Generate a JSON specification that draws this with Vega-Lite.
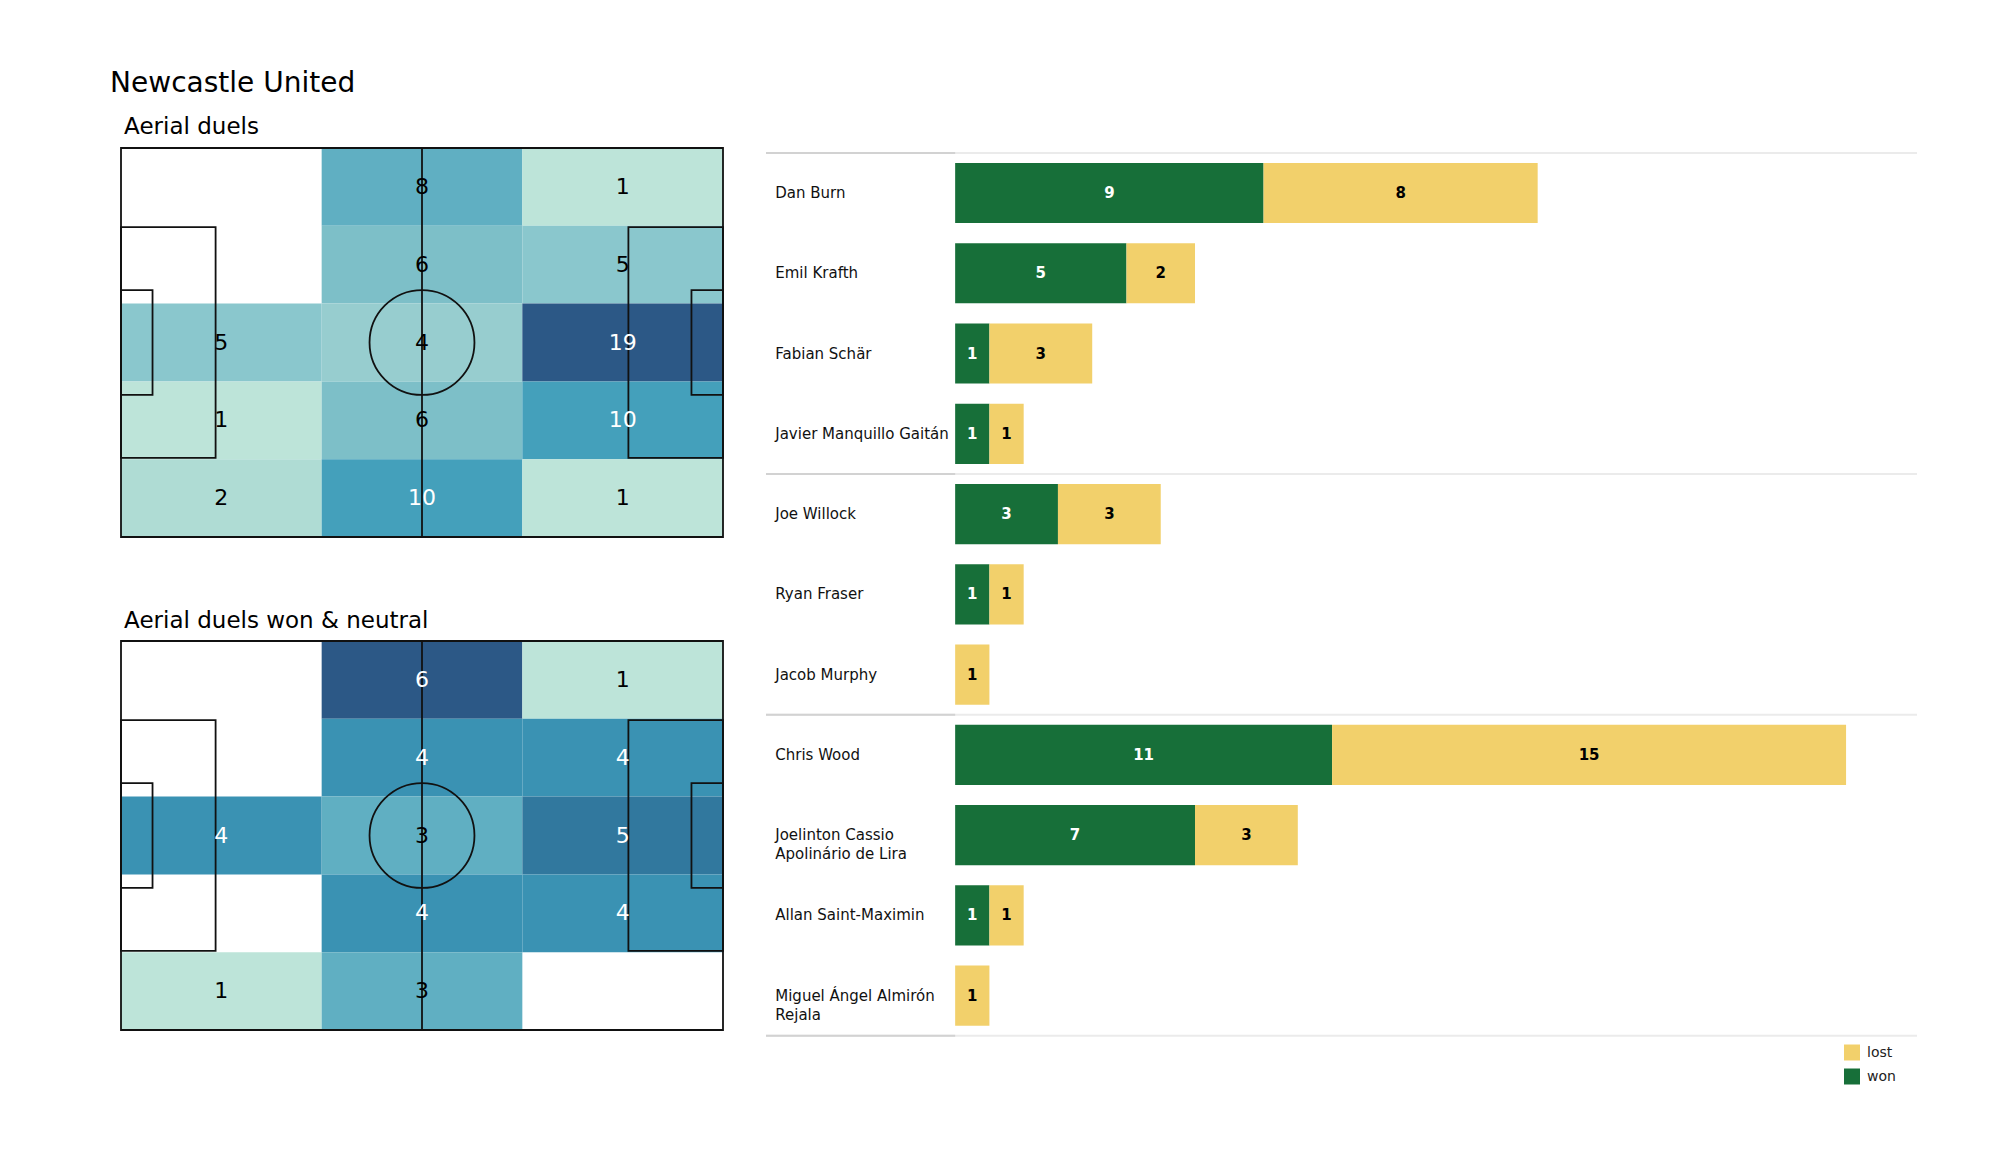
{
  "$schema": "https://vega.github.io/schema/vega-lite/v6.json",
  "background": "white",
  "padding": {"left": 110, "top": 70, "right": 10, "bottom": 10},
  "title": {"text": "Newcastle United", "anchor": "start", "fontSize": 28, "fontWeight": "normal", "font": "DejaVu Sans", "color": "black", "dx": -10, "offset": -4, "baseline": "alphabetic"},
  "datasets": {
    "aerial": [
      {"col": 1, "row": 0, "n": 8}, {"col": 2, "row": 0, "n": 1},
      {"col": 1, "row": 1, "n": 6}, {"col": 2, "row": 1, "n": 5},
      {"col": 0, "row": 2, "n": 5}, {"col": 1, "row": 2, "n": 4}, {"col": 2, "row": 2, "n": 19},
      {"col": 0, "row": 3, "n": 1}, {"col": 1, "row": 3, "n": 6}, {"col": 2, "row": 3, "n": 10},
      {"col": 0, "row": 4, "n": 2}, {"col": 1, "row": 4, "n": 10}, {"col": 2, "row": 4, "n": 1}
    ],
    "wonneutral": [
      {"col": 1, "row": 0, "n": 6}, {"col": 2, "row": 0, "n": 1},
      {"col": 1, "row": 1, "n": 4}, {"col": 2, "row": 1, "n": 4},
      {"col": 0, "row": 2, "n": 4}, {"col": 1, "row": 2, "n": 3}, {"col": 2, "row": 2, "n": 5},
      {"col": 1, "row": 3, "n": 4}, {"col": 2, "row": 3, "n": 4},
      {"col": 0, "row": 4, "n": 1}, {"col": 1, "row": 4, "n": 3}
    ],
    "boxes": [
      {"x0": 0, "x1": 105, "y0": 0, "y1": 68},
      {"x0": 0, "x1": 16.5, "y0": 13.84, "y1": 54.16},
      {"x0": 0, "x1": 5.5, "y0": 24.84, "y1": 43.16},
      {"x0": 88.5, "x1": 105, "y0": 13.84, "y1": 54.16},
      {"x0": 99.5, "x1": 105, "y0": 24.84, "y1": 43.16}
    ],
    "duels": [
      {"player": "Dan Burn", "result": "won", "count": 9}, {"player": "Dan Burn", "result": "lost", "count": 8},
      {"player": "Emil Krafth", "result": "won", "count": 5}, {"player": "Emil Krafth", "result": "lost", "count": 2},
      {"player": "Fabian Schär", "result": "won", "count": 1}, {"player": "Fabian Schär", "result": "lost", "count": 3},
      {"player": "Javier Manquillo Gaitán", "result": "won", "count": 1}, {"player": "Javier Manquillo Gaitán", "result": "lost", "count": 1},
      {"player": "Joe Willock", "result": "won", "count": 3}, {"player": "Joe Willock", "result": "lost", "count": 3},
      {"player": "Ryan Fraser", "result": "won", "count": 1}, {"player": "Ryan Fraser", "result": "lost", "count": 1},
      {"player": "Jacob Murphy", "result": "lost", "count": 1},
      {"player": "Chris Wood", "result": "won", "count": 11}, {"player": "Chris Wood", "result": "lost", "count": 15},
      {"player": "Joelinton Cassio Apolinário de Lira", "result": "won", "count": 7}, {"player": "Joelinton Cassio Apolinário de Lira", "result": "lost", "count": 3},
      {"player": "Allan Saint-Maximin", "result": "won", "count": 1}, {"player": "Allan Saint-Maximin", "result": "lost", "count": 1},
      {"player": "Miguel Ángel Almirón Rejala", "result": "lost", "count": 1}
    ],
    "players": [
      {"player": "Dan Burn", "label": "Dan Burn"},
      {"player": "Emil Krafth", "label": "Emil Krafth"},
      {"player": "Fabian Schär", "label": "Fabian Schär"},
      {"player": "Javier Manquillo Gaitán", "label": "Javier Manquillo Gaitán"},
      {"player": "Joe Willock", "label": "Joe Willock"},
      {"player": "Ryan Fraser", "label": "Ryan Fraser"},
      {"player": "Jacob Murphy", "label": "Jacob Murphy"},
      {"player": "Chris Wood", "label": "Chris Wood"},
      {"player": "Joelinton Cassio Apolinário de Lira", "label": "Joelinton Cassio\nApolinário de Lira"},
      {"player": "Allan Saint-Maximin", "label": "Allan Saint-Maximin"},
      {"player": "Miguel Ángel Almirón Rejala", "label": "Miguel Ángel Almirón\nRejala"}
    ],
    "sepTop": [{"player": "Dan Burn"}, {"player": "Joe Willock"}, {"player": "Chris Wood"}],
    "sepBottom": [{"player": "Miguel Ángel Almirón Rejala"}]
  },
  "hconcat": [
    {
      "vconcat": [
        {
          "width": 602, "height": 389,
          "title": {"text": "Aerial duels", "anchor": "start", "fontSize": 23, "fontWeight": "normal", "font": "DejaVu Sans", "color": "black", "dx": 4, "offset": -10, "baseline": "alphabetic"},
          "layer": [
            {
              "data": {"name": "aerial"},
              "mark": {"type": "rect"},
              "encoding": {
                "x": {"field": "col", "type": "ordinal", "scale": {"domain": [0, 1, 2], "paddingInner": 0, "paddingOuter": 0}, "axis": null},
                "y": {"field": "row", "type": "ordinal", "scale": {"domain": [0, 1, 2, 3, 4], "paddingInner": 0, "paddingOuter": 0}, "axis": null},
                "color": {"field": "n", "type": "quantitative", "scale": {"domain": [1, 2, 4, 5, 6, 8, 10, 19], "range": ["#bde4d9", "#afdcd4", "#97cdcf", "#8ac7cd", "#7dbfc8", "#60afc2", "#44a0bb", "#2c5886"]}, "legend": null}
              }
            },
            {
              "data": {"name": "boxes"},
              "mark": {"type": "rect", "fill": "transparent", "stroke": "#111111", "strokeWidth": 1.8},
              "encoding": {
                "x": {"field": "x0", "type": "quantitative", "scale": {"domain": [0, 105], "nice": false, "zero": false}, "axis": null},
                "x2": {"field": "x1"},
                "y": {"field": "y0", "type": "quantitative", "scale": {"domain": [0, 68], "nice": false, "zero": false}, "axis": null},
                "y2": {"field": "y1"}
              }
            },
            {
              "data": {"values": [{"x": 52.5, "y0": 0, "y1": 68}]},
              "mark": {"type": "rule", "stroke": "#111111", "strokeWidth": 1.8},
              "encoding": {
                "x": {"field": "x", "type": "quantitative", "scale": {"domain": [0, 105], "nice": false, "zero": false}, "axis": null},
                "y": {"field": "y0", "type": "quantitative", "scale": {"domain": [0, 68], "nice": false, "zero": false}, "axis": null},
                "y2": {"field": "y1"}
              }
            },
            {
              "data": {"values": [{"x": 52.5, "y": 34}]},
              "mark": {"type": "point", "shape": "circle", "filled": false, "stroke": "#111111", "strokeWidth": 1.8, "size": 11008, "opacity": 1},
              "encoding": {
                "x": {"field": "x", "type": "quantitative", "scale": {"domain": [0, 105], "nice": false, "zero": false}, "axis": null},
                "y": {"field": "y", "type": "quantitative", "scale": {"domain": [0, 68], "nice": false, "zero": false}, "axis": null}
              }
            },
            {
              "data": {"name": "aerial"},
              "mark": {"type": "text", "fontSize": 22, "font": "DejaVu Sans", "align": "center", "baseline": "middle"},
              "encoding": {
                "x": {"field": "col", "type": "ordinal", "scale": {"domain": [0, 1, 2], "paddingInner": 0, "paddingOuter": 0}, "axis": null},
                "y": {"field": "row", "type": "ordinal", "scale": {"domain": [0, 1, 2, 3, 4], "paddingInner": 0, "paddingOuter": 0}, "axis": null},
                "text": {"field": "n", "type": "quantitative"},
                "color": {"condition": {"test": "datum.n >= 10", "value": "white"}, "value": "black"}
              }
            }
          ],
          "resolve": {"scale": {"x": "independent", "y": "independent"}}
        },
        {
          "width": 602, "height": 389,
          "title": {"text": "Aerial duels won & neutral", "anchor": "start", "fontSize": 23, "fontWeight": "normal", "font": "DejaVu Sans", "color": "black", "dx": 4, "offset": -11, "baseline": "alphabetic"},
          "layer": [
            {
              "data": {"name": "wonneutral"},
              "mark": {"type": "rect"},
              "encoding": {
                "x": {"field": "col", "type": "ordinal", "scale": {"domain": [0, 1, 2], "paddingInner": 0, "paddingOuter": 0}, "axis": null},
                "y": {"field": "row", "type": "ordinal", "scale": {"domain": [0, 1, 2, 3, 4], "paddingInner": 0, "paddingOuter": 0}, "axis": null},
                "color": {"field": "n", "type": "quantitative", "scale": {"domain": [1, 3, 4, 5, 6], "range": ["#bde4d9", "#60afc2", "#3a92b3", "#31789e", "#2c5886"]}, "legend": null}
              }
            },
            {
              "data": {"name": "boxes"},
              "mark": {"type": "rect", "fill": "transparent", "stroke": "#111111", "strokeWidth": 1.8},
              "encoding": {
                "x": {"field": "x0", "type": "quantitative", "scale": {"domain": [0, 105], "nice": false, "zero": false}, "axis": null},
                "x2": {"field": "x1"},
                "y": {"field": "y0", "type": "quantitative", "scale": {"domain": [0, 68], "nice": false, "zero": false}, "axis": null},
                "y2": {"field": "y1"}
              }
            },
            {
              "data": {"values": [{"x": 52.5, "y0": 0, "y1": 68}]},
              "mark": {"type": "rule", "stroke": "#111111", "strokeWidth": 1.8},
              "encoding": {
                "x": {"field": "x", "type": "quantitative", "scale": {"domain": [0, 105], "nice": false, "zero": false}, "axis": null},
                "y": {"field": "y0", "type": "quantitative", "scale": {"domain": [0, 68], "nice": false, "zero": false}, "axis": null},
                "y2": {"field": "y1"}
              }
            },
            {
              "data": {"values": [{"x": 52.5, "y": 34}]},
              "mark": {"type": "point", "shape": "circle", "filled": false, "stroke": "#111111", "strokeWidth": 1.8, "size": 11008, "opacity": 1},
              "encoding": {
                "x": {"field": "x", "type": "quantitative", "scale": {"domain": [0, 105], "nice": false, "zero": false}, "axis": null},
                "y": {"field": "y", "type": "quantitative", "scale": {"domain": [0, 68], "nice": false, "zero": false}, "axis": null}
              }
            },
            {
              "data": {"name": "wonneutral"},
              "mark": {"type": "text", "fontSize": 22, "font": "DejaVu Sans", "align": "center", "baseline": "middle"},
              "encoding": {
                "x": {"field": "col", "type": "ordinal", "scale": {"domain": [0, 1, 2], "paddingInner": 0, "paddingOuter": 0}, "axis": null},
                "y": {"field": "row", "type": "ordinal", "scale": {"domain": [0, 1, 2, 3, 4], "paddingInner": 0, "paddingOuter": 0}, "axis": null},
                "text": {"field": "n", "type": "quantitative"},
                "color": {"condition": {"test": "datum.n >= 4", "value": "white"}, "value": "black"}
              }
            }
          ],
          "resolve": {"scale": {"x": "independent", "y": "independent"}}
        }
      ],
      "spacing": 104,
      "bounds": "flush",
      "resolve": {"scale": {"color": "independent"}}
    },
    {
      "width": 1151, "height": 886.2,
      "layer": [
        {
          "data": {"name": "sepTop"},
          "mark": {"type": "rule", "stroke": "#ebebeb", "strokeWidth": 2},
          "encoding": {"y": {"field": "player", "type": "nominal", "bandPosition": -0.16667, "axis": null, "scale": {"domain": ["Dan Burn", "Emil Krafth", "Fabian Schär", "Javier Manquillo Gaitán", "Joe Willock", "Ryan Fraser", "Jacob Murphy", "Chris Wood", "Joelinton Cassio Apolinário de Lira", "Allan Saint-Maximin", "Miguel Ángel Almirón Rejala"], "paddingInner": 0.25, "paddingOuter": 0.1458, "align": 0.637}}}
        },
        {
          "data": {"name": "sepBottom"},
          "mark": {"type": "rule", "stroke": "#ebebeb", "strokeWidth": 2},
          "encoding": {"y": {"field": "player", "type": "nominal", "bandPosition": 1.16667, "axis": null}}
        },
        {
          "data": {"name": "duels"},
          "transform": [
            {"stack": "count", "groupby": ["player"], "sort": [{"field": "result", "order": "descending"}], "as": ["c0", "c1"]}
          ],
          "mark": {"type": "bar"},
          "encoding": {
            "x": {"field": "c0", "type": "quantitative", "scale": {"domain": [-5.52, 28.07], "nice": false, "zero": false}, "axis": null},
            "x2": {"field": "c1"},
            "y": {"field": "player", "type": "nominal", "axis": null},
            "color": {
              "field": "result", "type": "nominal",
              "scale": {"domain": ["lost", "won"], "range": ["#f2d06b", "#176f39"]},
              "legend": {"orient": "none", "legendX": 1078, "legendY": 896.5, "title": null, "symbolType": "square", "symbolSize": 256, "symbolStrokeWidth": 0, "labelFontSize": 14, "labelFont": "DejaVu Sans", "labelColor": "#222222", "rowPadding": 8, "labelOffset": 7, "padding": 0}
            }
          }
        },
        {
          "data": {"name": "sepTop"},
          "mark": {"type": "rule", "stroke": "#d2d2d2", "strokeWidth": 2},
          "encoding": {"x": {"datum": -5.52}, "x2": {"datum": 0}, "y": {"field": "player", "type": "nominal", "bandPosition": -0.16667, "axis": null}}
        },
        {
          "data": {"name": "sepBottom"},
          "mark": {"type": "rule", "stroke": "#d2d2d2", "strokeWidth": 2},
          "encoding": {"x": {"datum": -5.52}, "x2": {"datum": 0}, "y": {"field": "player", "type": "nominal", "bandPosition": 1.16667, "axis": null}}
        },
        {
          "data": {"name": "duels"},
          "transform": [
            {"stack": "count", "groupby": ["player"], "sort": [{"field": "result", "order": "descending"}], "as": ["c0", "c1"]},
            {"calculate": "(datum.c0 + datum.c1) / 2", "as": "mid"}
          ],
          "mark": {"type": "text", "fontSize": 15, "fontWeight": "bold", "font": "DejaVu Sans", "align": "center", "baseline": "middle"},
          "encoding": {
            "x": {"field": "mid", "type": "quantitative"},
            "y": {"field": "player", "type": "nominal", "axis": null},
            "text": {"field": "count", "type": "quantitative"},
            "color": {"condition": {"test": "datum.result === 'won'", "value": "white"}, "value": "black"}
          }
        },
        {
          "data": {"name": "players"},
          "mark": {"type": "text", "fontSize": 15, "font": "DejaVu Sans", "align": "left", "baseline": "middle", "lineBreak": "\n", "lineHeight": 19, "color": "#111111"},
          "encoding": {
            "x": {"datum": -5.25},
            "y": {"field": "player", "type": "nominal", "axis": null},
            "text": {"field": "label", "type": "nominal"}
          }
        }
      ]
    }
  ],
  "spacing": 41,
  "resolve": {"scale": {"color": "independent"}},
  "config": {"view": {"stroke": null}, "font": "DejaVu Sans"}
}
